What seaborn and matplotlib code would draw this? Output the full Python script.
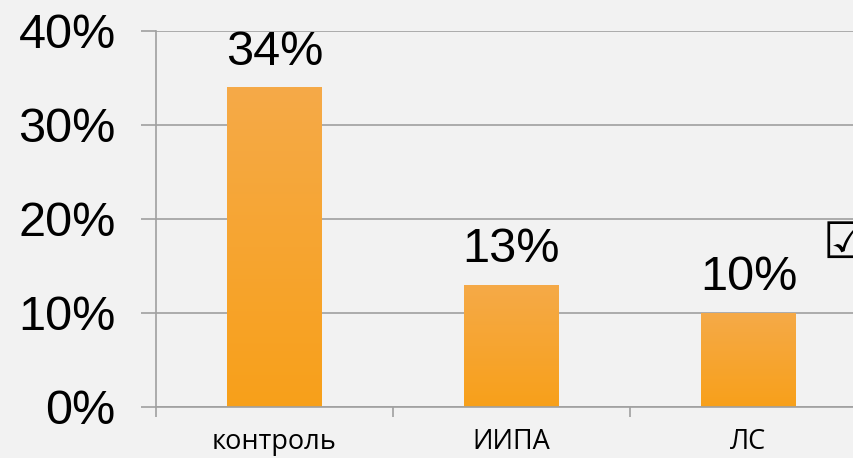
import numpy as np
import pandas as pd
import seaborn as sns
import matplotlib.pyplot as plt
from matplotlib.colors import LinearSegmentedColormap
from matplotlib.ticker import PercentFormatter, FixedLocator

# data
categories = ['контроль', 'ИИПА', 'ЛС']
values = [34, 13, 10]
value_labels = ['34%', '13%', '10%']

df = pd.DataFrame({'group': categories, 'pct': values})

bg = '#f2f2f2'
grid_col = '#a0a0a0'

sns.set_style('white')
plt.rcParams['font.family'] = ['Liberation Sans', 'DejaVu Sans']

fig = plt.figure(figsize=(8.54, 4.58), dpi=100, facecolor=bg)
ax = fig.add_axes([156 / 854, 51 / 458, 711 / 854, 376 / 458])
ax.set_facecolor(bg)

sns.barplot(data=df, x='group', y='pct', color='#f7a32a', width=0.4,
            saturation=1, ax=ax)

# vertical gradient on bars like the original
cmap = LinearSegmentedColormap.from_list('og', ['#f8a01a', '#f5aa48'])
grad = np.linspace(0, 1, 256).reshape(-1, 1)
for p in ax.patches:
    x0, y0 = p.get_x(), p.get_y()
    w, h = p.get_width(), p.get_height()
    im = ax.imshow(grad, cmap=cmap, aspect='auto', origin='lower',
                   extent=[x0, x0 + w, y0, y0 + h], zorder=2)
    im.set_clip_path(p)
    p.set_alpha(0)

for i, lab in enumerate(value_labels):
    ax.annotate(lab, (i, values[i]), xytext=(0, 9), textcoords='offset points',
                ha='center', va='bottom', fontsize=35, color='black')

ax.set_xlim(-0.5, 2.5)
ax.set_ylim(0, 40)
ax.set_yticks([0, 10, 20, 30, 40])
ax.yaxis.set_major_formatter(PercentFormatter(decimals=0))
ax.grid(axis='y', color=grid_col, lw=1.2)
ax.set_axisbelow(True)
ax.set_xlabel('')
ax.set_ylabel('')

for s in ['top', 'right']:
    ax.spines[s].set_visible(False)
for s in ['left', 'bottom']:
    ax.spines[s].set_color(grid_col)
    ax.spines[s].set_linewidth(1.2)

ax.tick_params(axis='y', left=True, length=11, width=1.2, color=grid_col,
               pad=18, labelsize=35, labelcolor='black')
ax.tick_params(axis='x', which='major', bottom=True, length=0, pad=15,
               labelcolor='black')
ax.xaxis.set_minor_locator(FixedLocator([-0.5, 0.5, 1.5, 2.5]))
ax.tick_params(axis='x', which='minor', bottom=True, length=7, width=1.2,
               color=grid_col)
for t in ax.get_xticklabels():
    t.set_fontfamily(['Open Sans', 'DejaVu Sans'])
    t.set_fontsize(19.5)

# checkbox glyph partly off the right edge, as in the reference
fig.text(823 / 854, 1 - 243 / 458, '☑', fontsize=36, fontweight='bold',
         color='black', ha='left', va='center',
         family=['Noto Sans CJK JP', 'DejaVu Sans'])

fig.savefig('out.png', dpi=100, facecolor=bg)
